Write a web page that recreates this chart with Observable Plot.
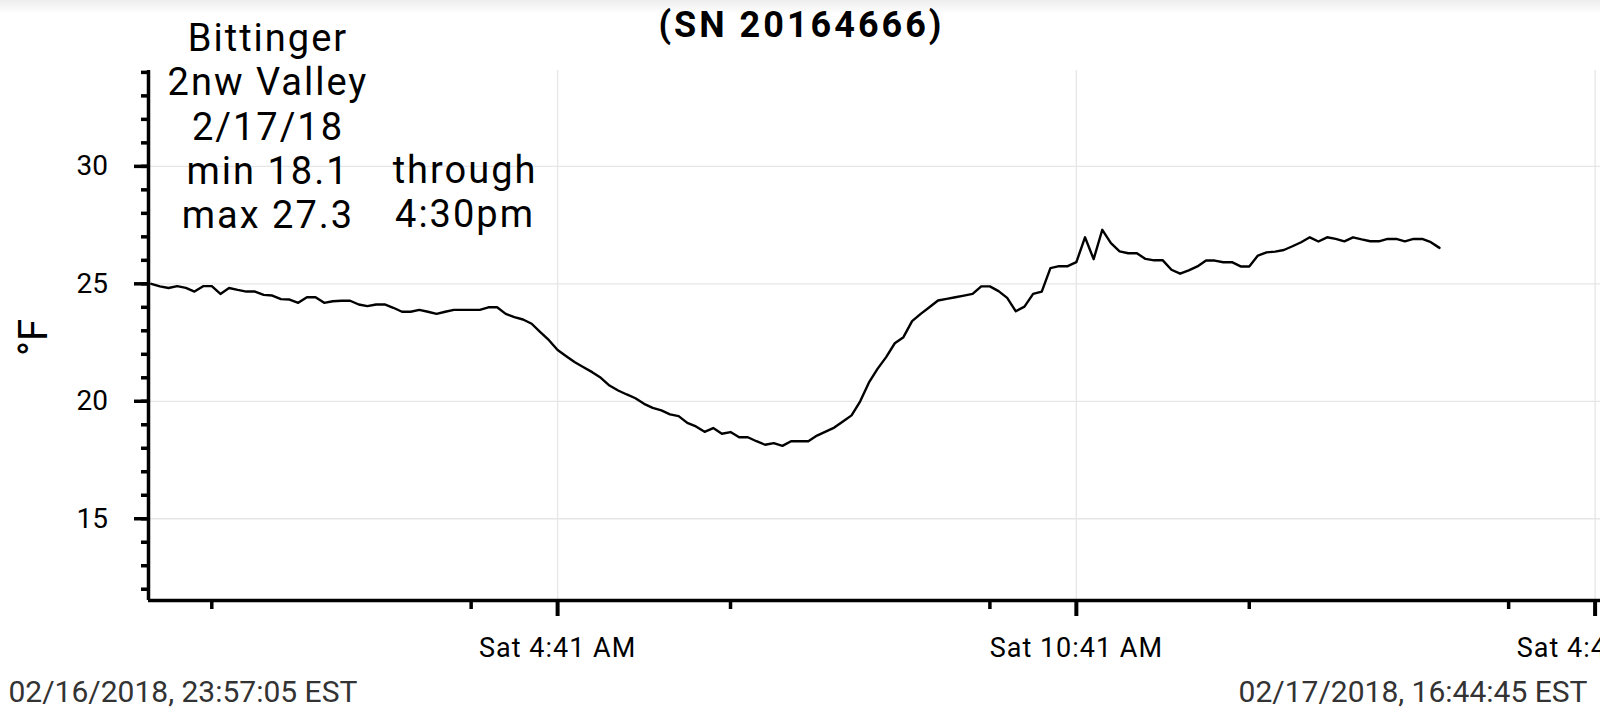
<!DOCTYPE html>
<html>
<head>
<meta charset="utf-8">
<script src="https://cdn.jsdelivr.net/npm/d3@7"></script>
<script src="https://cdn.jsdelivr.net/npm/@observablehq/plot@0.6"></script>
<style>
  html, body { margin: 0; padding: 0; background: #fff; overflow: hidden; }
  #wrap { position: relative; width: 1600px; height: 722px; }
  #shade { position: absolute; left: 0; top: 0; width: 1600px; height: 14px;
           background: linear-gradient(to bottom, rgba(0,0,0,0.07), rgba(0,0,0,0)); pointer-events: none; }
</style>
</head>
<body>
<div id="wrap"><div id="chart"></div><div id="shade"></div></div>
<script>
// ---------- data ----------
const serialNumber = "(SN 20164666)";
const annotationLines = ["Bittinger", "2nw Valley", "2/17/18", "min 18.1", "max 27.3"];
const throughLines = ["through", "4:30pm"];
const yAxisLabel = "°F";
const startStamp = "02/16/2018, 23:57:05 EST";
const endStamp = "02/17/2018, 16:44:45 EST";

const rangeStart = "2018-02-16T23:57:05";
const rangeEnd = "2018-02-17T16:44:45";
const firstReading = "2018-02-16T23:59:00";
const readingIntervalMinutes = 6;

const temps = [
  25.0, 24.89, 24.82, 24.9, 24.83, 24.67, 24.9, 24.9, 24.57, 24.82,
  24.74, 24.67, 24.67, 24.53, 24.5, 24.35, 24.33, 24.19, 24.43, 24.43,
  24.19, 24.26, 24.28, 24.28, 24.12, 24.05, 24.12, 24.12, 23.98, 23.81,
  23.81, 23.89, 23.81, 23.72, 23.81, 23.89, 23.89, 23.89, 23.89, 24.0,
  24.0, 23.72, 23.58, 23.48, 23.3, 22.94, 22.6, 22.18, 21.92, 21.66,
  21.45, 21.24, 21.0, 20.67, 20.46, 20.29, 20.13, 19.89, 19.72, 19.61,
  19.44, 19.37, 19.08, 18.93, 18.7, 18.86, 18.62, 18.69, 18.47, 18.47,
  18.3, 18.15, 18.22, 18.1, 18.3, 18.3, 18.3, 18.54, 18.71, 18.88,
  19.14, 19.4, 20.0, 20.79, 21.38, 21.88, 22.47, 22.73, 23.41, 23.72,
  24.0, 24.29, 24.36, 24.43, 24.5, 24.57, 24.89, 24.89, 24.69, 24.4,
  23.83, 24.03, 24.57, 24.67, 25.67, 25.75, 25.75, 25.92, 26.98, 26.05,
  27.3, 26.73, 26.38, 26.3, 26.3, 26.06, 26.0, 26.0, 25.6, 25.43,
  25.57, 25.74, 25.99, 25.99, 25.92, 25.92, 25.74, 25.74, 26.2, 26.34,
  26.37, 26.44, 26.6, 26.77, 26.98, 26.8, 26.98, 26.91, 26.81, 26.98,
  26.89, 26.81, 26.81, 26.91, 26.91, 26.81, 26.91, 26.91, 26.77, 26.53
];

const xMajorTicks = ["2018-02-17T04:41:00", "2018-02-17T10:41:00", "2018-02-17T16:41:00"];
const xMajorLabels = ["Sat 4:41 AM", "Sat 10:41 AM", "Sat 4:41 PM"];
const xMinorTicks = ["2018-02-17T00:41:00", "2018-02-17T03:41:00", "2018-02-17T06:41:00",
                     "2018-02-17T09:41:00", "2018-02-17T12:41:00", "2018-02-17T15:41:00"];
const yMajorTicks = [15, 20, 25, 30];
const yMinorTicks = [12, 13, 14, 15, 16, 17, 18, 19, 20, 21, 22, 23, 24, 25, 26, 27, 28, 29, 30, 31, 32, 33, 34];
const yDomain = [11.52, 34.08];

// ---------- build ----------
const t0 = new Date(firstReading).getTime();
const readings = temps.map((temp, i) => ({time: new Date(t0 + i * readingIntervalMinutes * 60000), temp}));
const xStart = new Date(rangeStart), xEnd = new Date(rangeEnd);
const majorDates = xMajorTicks.map(d => new Date(d));
const minorDates = xMinorTicks.map(d => new Date(d));
const labelOf = new Map(majorDates.map((d, i) => [+d, xMajorLabels[i]]));

const chart = Plot.plot({
  width: 1600,
  height: 722,
  marginTop: 70,
  marginBottom: 122,
  marginLeft: 148,
  marginRight: 0,
  style: {fontFamily: "Roboto, sans-serif", background: "white", color: "#000", overflow: "hidden"},
  x: {type: "time", domain: [xStart, xEnd], label: null},
  y: {domain: yDomain, label: null},
  marks: [
    Plot.ruleY(yMajorTicks, {stroke: "#e6e6e6", strokeWidth: 1.3}),
    Plot.ruleX(majorDates, {stroke: "#e6e6e6", strokeWidth: 1.3}),
    Plot.line(readings, {x: "time", y: "temp", stroke: "#000", strokeWidth: 2.4}),
    Plot.ruleX([xStart], {stroke: "#000", strokeWidth: 3.5}),
    Plot.ruleY([yDomain[0]], {stroke: "#000", strokeWidth: 3.5}),
    Plot.axisY({ticks: yMinorTicks, tickSize: 7, strokeWidth: 3.5, tickFormat: () => "", label: null}),
    Plot.axisY({ticks: yMajorTicks, tickSize: 14, strokeWidth: 3.5, tickPadding: 26.5, fontSize: 28, label: null}),
    Plot.axisX({ticks: minorDates, tickSize: 9, strokeWidth: 3.5, tickFormat: () => "", label: null}),
    Plot.axisX({ticks: majorDates, tickSize: 16, strokeWidth: 4, tickPadding: 21.5, fontSize: 27,
                tickFormat: d => labelOf.get(+d), label: null}),
    Plot.text([serialNumber], {frameAnchor: "top-left", dx: 653, dy: -34, lineAnchor: "bottom",
                textAnchor: "middle", text: d => d, fontSize: 36, fontWeight: "bold", fill: "#000"}),
    Plot.text([annotationLines.join("\n")], {x: () => new Date("2018-02-17T01:20:00"), y: () => 27.355,
                text: d => d, lineAnchor: "bottom", lineHeight: 1.171, fontSize: 38, textAnchor: "middle",
                fill: "#000"}),
    Plot.text([throughLines.join("\n")], {x: () => new Date("2018-02-17T03:36:45"), y: () => 27.4,
                text: d => d, lineAnchor: "bottom", lineHeight: 1.171, fontSize: 38, textAnchor: "middle",
                fill: "#000"}),
    Plot.text([yAxisLabel], {frameAnchor: "left", dx: -102, dy: 2, rotate: -90, lineAnchor: "bottom",
                textAnchor: "middle", text: d => d, fontSize: 40, fill: "#000"}),
    Plot.text([startStamp], {frameAnchor: "bottom-left", dx: -140, dy: 101.7, lineAnchor: "bottom",
                textAnchor: "start", text: d => d, fontSize: 30, fill: "#333"}),
    Plot.text([endStamp], {frameAnchor: "bottom-right", dx: -13, dy: 101.7, lineAnchor: "bottom",
                textAnchor: "end", text: d => d, fontSize: 30, fill: "#333"})
  ]
});

// widen a few texts to match the reference's letter widths
const spacingFor = new Map([
  [serialNumber, "3px"],
  [annotationLines.join(""), "2px"],
  [throughLines.join(""), "2px"]
]);
const tickLabelSet = new Set(xMajorLabels);
d3.select(chart).selectAll("text").each(function () {
  const s = this.textContent;
  if (spacingFor.has(s)) this.style.letterSpacing = spacingFor.get(s);
  else if (tickLabelSet.has(s)) this.style.letterSpacing = "1px";
});
document.getElementById("chart").appendChild(chart);
</script>
</body>
</html>
